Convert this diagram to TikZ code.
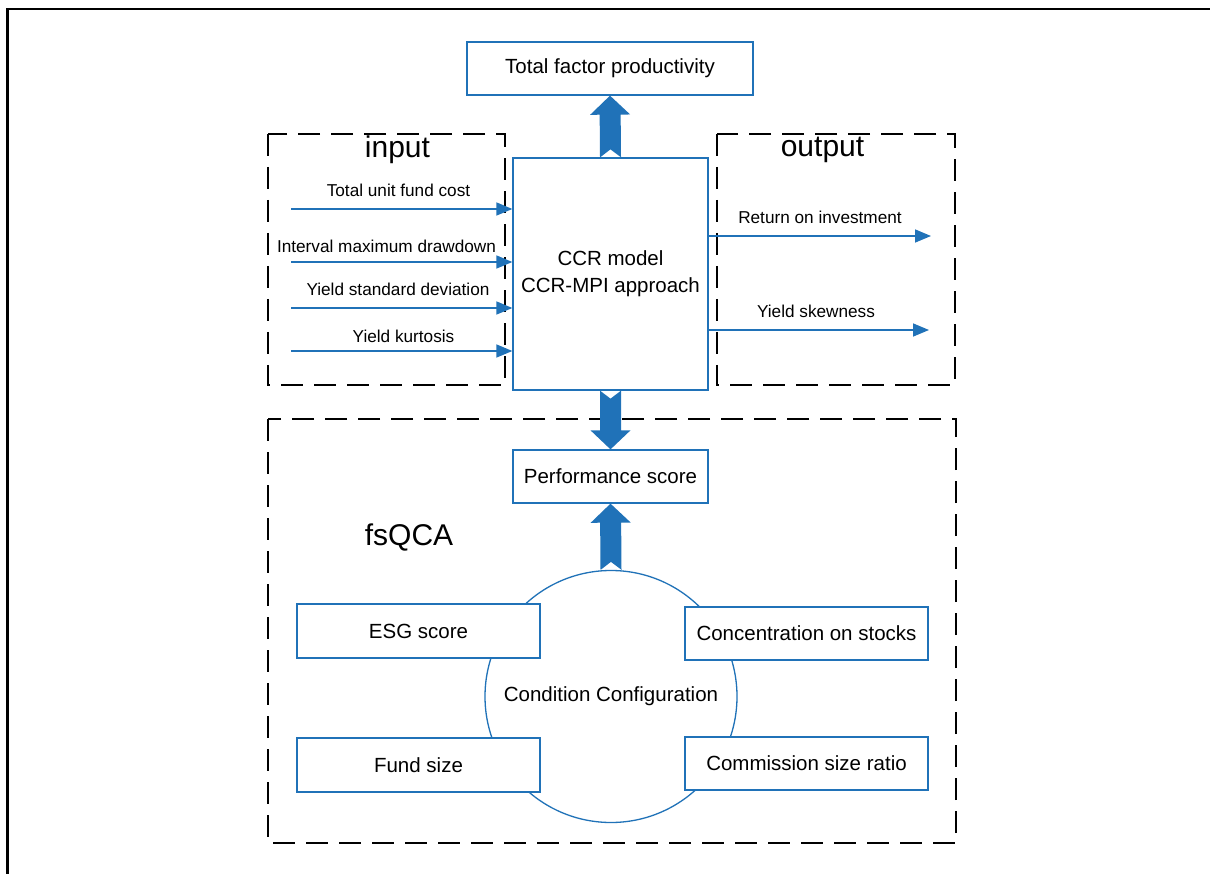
\documentclass[tikz,border=0pt]{standalone}
\usepackage{fontspec}
\setmainfont{Liberation Sans}
\usetikzlibrary{calc,arrows.meta}
\definecolor{bl}{HTML}{2072B8}
\tikzset{
 bbox/.style={draw=bl, line width=1.3pt, fill=white, inner sep=0pt, font=\fontsize{20.5}{27}\selectfont, align=center},
 dbox/.style={draw=black, line width=1.6pt, dash pattern=on 22pt off 11pt},
 thinarrow/.style={draw=bl, line width=1.6pt, -{Triangle[length=16pt,width=13pt]}},
 lbl/.style={font=\fontsize{17.2}{20}\selectfont, inner sep=0pt, anchor=base},
 big/.style={font=\fontsize{30}{36}\selectfont, inner sep=0pt, anchor=base},
}
\newcommand{\fatarr}[2]{%
  \fill[bl] ($(#1)!10.5pt!90:(#2)$) -- ($($(#2)!19pt!(#1)$)!10.5pt!90:(#2)$)
    -- ($($(#2)!19pt!(#1)$)!20pt!90:(#2)$) -- (#2)
    -- ($($(#2)!19pt!(#1)$)!20pt!-90:(#2)$) -- ($($(#2)!19pt!(#1)$)!10.5pt!-90:(#2)$)
    -- ($(#1)!10.5pt!-90:(#2)$) -- ($(#1)!8pt!(#2)$) -- cycle;}
\begin{document}
\begin{tikzpicture}[x=1pt,y=-1pt]
\useasboundingbox (0,0) rectangle (1210,874);
\clip (0,0) rectangle (1210,874);
\fill[white] (0,0) rectangle (1210,874);
% outer frame
\draw[line width=2.5pt, black] (7.5,890) -- (7.5,9) -- (1230,9);
% dashed containers
\draw[dbox] (268,134) rectangle (505,385);
\draw[dbox] (717,134) rectangle (955,385);
\draw[dbox] (268,419) rectangle (956,843);
% main boxes
\node[bbox, minimum width=286pt, minimum height=53pt] (tfp) at (610,68.5) {Total factor productivity};
\node[bbox, minimum width=195pt, minimum height=232pt] (ccr) at (610.5,274) {CCR model\\CCR-MPI approach};
\node[bbox, minimum width=195pt, minimum height=53pt] (perf) at (610.5,476.5) {Performance score};
% circle
\node[draw=bl, line width=1.3pt, circle, minimum size=252pt, inner sep=0pt, font=\fontsize{20.5}{24}\selectfont] (cc) at (611,696.5) {Condition Configuration};
\node[bbox, minimum width=243pt, minimum height=54pt] (esg) at (418.5,631) {ESG score};
\node[bbox, minimum width=243pt, minimum height=54pt] (fund) at (418.5,765) {Fund size};
\node[bbox, minimum width=243pt, minimum height=53pt] (conc) at (806.5,633.5) {Concentration on stocks};
\node[bbox, minimum width=243pt, minimum height=53pt] (comm) at (806.5,763.5) {Commission size ratio};
% big labels
\node[big] (lin) at (397.5,158) {input};
\node[big] (lout) at (822.5,157) {output};
\node[big] (lfs) at (409,545) {fsQCA};
% fat arrows
\fatarr{ccr.north}{tfp.south}
\fatarr{ccr.south}{perf.north}
\fatarr{cc.north}{perf.south}
% input arrows
\coordinate (i1) at (291,209);
\coordinate (i2) at (291,262);
\coordinate (i3) at (291,308);
\coordinate (i4) at (291,351);
\draw[thinarrow] (i1) -- (i1 -| ccr.west);
\draw[thinarrow] (i2) -- (i2 -| ccr.west);
\draw[thinarrow] (i3) -- (i3 -| ccr.west);
\draw[thinarrow] (i4) -- (i4 -| ccr.west);
\node[lbl] (t1) at (398.5,197) {Total unit fund cost};
\node[lbl] (t2) at (386.5,253) {Interval maximum drawdown};
\node[lbl] (t3) at (398,296) {Yield standard deviation};
\node[lbl] (t4) at (403.5,343) {Yield kurtosis};
% output arrows
\coordinate (o1) at (931,236);
\coordinate (o2) at (929,330);
\draw[thinarrow] (o1 -| ccr.east) -- (o1);
\draw[thinarrow] (o2 -| ccr.east) -- (o2);
\node[lbl] (u1) at (820,224) {Return on investment};
\node[lbl] (u2) at (816,318) {Yield skewness};
\end{tikzpicture}
\end{document}
